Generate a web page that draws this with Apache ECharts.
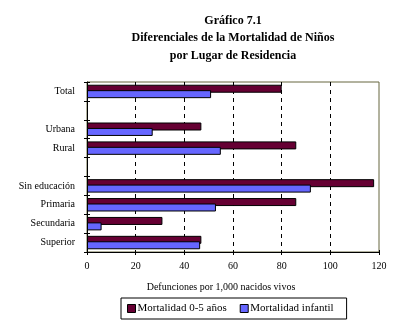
<!DOCTYPE html>
<html><head><meta charset="utf-8">
<script src="https://cdn.jsdelivr.net/npm/echarts@6/dist/echarts.min.js"></script>
<style>html,body{margin:0;padding:0;background:#fff}#c{width:394px;height:326px}</style>
</head><body><div id="c"></div>
<script>
const titleLines = ['Gráfico 7.1', 'Diferenciales de la Mortalidad de Niños', 'por Lugar de Residencia'];
const categories = ['Total', '', 'Urbana', 'Rural', '', 'Sin educación', 'Primaria', 'Secundaria', 'Superior'];
const mortalidad05 = [80, null, 47, 86, null, 118, 86, 31, 47];
const mortalidadInfantil = [51, null, 27, 55, null, 92, 53, 6, 46.5];
const seriesNames = ['Mortalidad 0-5 años', 'Mortalidad infantil'];
const xTicks = { min: 0, max: 120, interval: 20 };
const xAxisName = 'Defunciones por 1,000 nacidos vivos';

const FONT = '"Liberation Serif", "Times New Roman", serif';
const chart = echarts.init(document.getElementById('c'), null, { renderer: 'canvas' });
const gridLineColors = [];
for (let v = xTicks.min; v <= xTicks.max; v += xTicks.interval) {
  gridLineColors.push(v === xTicks.min || v === xTicks.max ? 'rgba(0,0,0,0)' : '#000');
}
chart.setOption({
  animation: false,
  backgroundColor: '#fff',
  textStyle: { fontFamily: FONT },
  title: {
    text: titleLines.join('\n'),
    left: 228, top: 7, textAlign: 'center',
    textStyle: { fontFamily: FONT, fontWeight: 'bold', fontSize: 12, lineHeight: 17.5, color: '#000' }
  },
  graphic: [{
    type: 'text', x: 221, y: 287,
    style: { text: xAxisName, fontFamily: FONT, fontSize: 10, fill: '#000', align: 'center', verticalAlign: 'middle' }
  }],
  legend: {
    data: seriesNames,
    left: 121, top: 298,
    orient: 'horizontal',
    itemWidth: 8, itemHeight: 8, itemGap: 13,
    padding: [5, 13, 5, 6],
    borderColor: '#000', borderWidth: 1,
    icon: 'rect',
    itemStyle: { borderColor: '#000', borderWidth: 1 },
    textStyle: { fontFamily: FONT, fontSize: 11, color: '#000', padding: [0, 0, 0, -3] }
  },
  grid: { left: 87, right: 15, top: 82, bottom: 74, show: true, borderColor: '#66663f', borderWidth: 1 },
  xAxis: [{
    type: 'value', min: xTicks.min, max: xTicks.max, interval: xTicks.interval,
    axisLine: { show: true, lineStyle: { color: '#000', width: 1 } },
    axisTick: { show: true, length: 3, lineStyle: { color: '#000' } },
    axisLabel: { fontFamily: FONT, fontSize: 10, color: '#000', margin: 9 },
    splitLine: { show: true, lineStyle: { color: gridLineColors, type: [4, 4], width: 1 } }
  }, {
    type: 'value', min: xTicks.min, max: xTicks.max, interval: xTicks.interval, position: 'bottom',
    axisLine: { show: false }, axisTick: { show: true, inside: true, length: 2, lineStyle: { color: '#000' } },
    axisLabel: { show: false }, splitLine: { show: false }
  }],
  yAxis: [{
    type: 'category', data: categories, inverse: true,
    axisLine: { show: true, lineStyle: { color: '#000', width: 1 } },
    axisTick: { show: true, length: 3, alignWithLabel: false, lineStyle: { color: '#000' } },
    axisLabel: { fontFamily: FONT, fontSize: 10, color: '#000', margin: 12 },
    splitLine: { show: false }
  }, {
    type: 'category', data: categories, inverse: true, position: 'left',
    axisLine: { show: false },
    axisTick: { show: true, inside: true, length: 3, lineStyle: { color: '#000' } },
    axisLabel: { show: false }, splitLine: { show: false }
  }],
  series: [{
    name: seriesNames[0], type: 'bar', data: mortalidad05,
    barWidth: 8, barGap: '-32%',
    itemStyle: { color: '#660033', borderColor: '#000', borderWidth: 1 }
  }, {
    name: seriesNames[1], type: 'bar', data: mortalidadInfantil,
    barWidth: 8, barGap: '-32%',
    itemStyle: { color: '#6666FF', borderColor: '#000', borderWidth: 1 }
  }]
});
</script></body></html>
